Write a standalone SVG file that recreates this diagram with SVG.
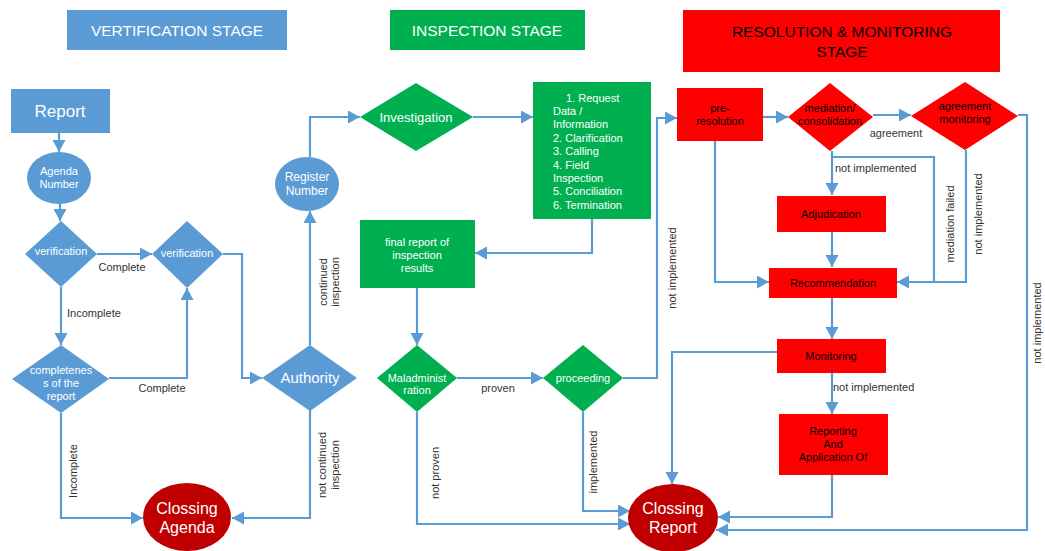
<svg xmlns="http://www.w3.org/2000/svg" width="1045" height="551" viewBox="0 0 1045 551">
<style>
.blue{fill:#5b9bd5}
.green{fill:#00b050}
.red{fill:#ff0000}
.dred{fill:#c00000}
text{font-family:"Liberation Sans",Arial,sans-serif}
.wt{fill:#ffffff;text-anchor:middle}
.bt{fill:#000000;text-anchor:middle}
.lbl{fill:#333333;font-size:11px}
.ctr{text-anchor:middle}
.hd{font-size:15.5px}
.conn path{fill:none;stroke:#5b9bd5;stroke-width:2.2}
.conn path.a{marker-end:url(#arr)}
</style>
<defs>
<marker id="arr" markerUnits="userSpaceOnUse" markerWidth="14" markerHeight="14" refX="12" refY="6.5" orient="auto">
<path d="M0,0 L12,6.5 L0,13 z" fill="#5b9bd5"/>
</marker>
</defs>
<rect width="1045" height="551" fill="#ffffff"/>

<g id="header-verification"><rect x="67" y="10" width="220" height="40" class="blue"/><text x="177" y="36" class="wt hd">VERTIFICATION STAGE</text></g>
<g id="header-inspection"><rect x="390" y="10" width="195" height="40" class="green"/><text x="487" y="36" class="wt hd">INSPECTION STAGE</text></g>
<g id="header-resolution"><rect x="683" y="10" width="317" height="62" class="red"/><text x="842" y="37" class="bt hd">RESOLUTION &amp; MONITORING</text><text x="842" y="57" class="bt hd">STAGE</text></g>

<g class="conn">
<path class="a" d="M59,133 V152"/>
<path class="a" d="M60,204 V221"/>
<path class="a" d="M97,254 H152"/>
<path class="a" d="M61,287 V345"/>
<path class="a" d="M223,254 H242 V378 H262"/>
<path class="a" d="M109,378 H187 V288"/>
<path class="a" d="M61,413 V518 H143"/>
<path class="a" d="M310,410 V518 H232"/>
<path class="a" d="M310,345 V211"/>
<path class="a" d="M310,157 V117 H360"/>
<path class="a" d="M473,117 H533"/>
<path class="a" d="M592,219 V253 H475"/>
<path class="a" d="M417,288 V345"/>
<path class="a" d="M457,378 H543"/>
<path class="a" d="M623,378 H657 V118 H677"/>
<path class="a" d="M763,117 H788"/>
<path class="a" d="M873,115 H911"/>
<path class="a" d="M832,151 V195"/>
<path d="M832,157 H934 V282"/>
<path class="a" d="M966,150 V282 H897"/>
<path class="a" d="M832,232 V267"/>
<path class="a" d="M715,141 V282 H769"/>
<path class="a" d="M832,298 V339"/>
<path class="a" d="M777,352 H672 V484"/>
<path class="a" d="M832,373 V414"/>
<path class="a" d="M832,475 V517 H718"/>
<path class="a" d="M1018,115 H1027 V530 H716"/>
<path class="a" d="M583,412 V511 H630"/>
<path class="a" d="M417,412 V524 H630"/>
</g>

<g id="report"><rect x="11" y="89" width="99" height="44" class="blue"/><text x="60" y="117" class="wt" font-size="17">Report</text></g>
<g id="agenda-number"><ellipse cx="59" cy="178" rx="32" ry="26" class="blue"/><text x="59" y="175" class="wt" font-size="11">Agenda</text><text x="59" y="188" class="wt" font-size="11">Number</text></g>
<g id="verification1"><polygon points="61,221 97,254 61,287 25,254" class="blue"/><text x="61" y="255" class="wt" font-size="11">verification</text></g>
<g id="verification2"><polygon points="187,221 223,254 187,288 152,254" class="blue"/><text x="187" y="257" class="wt" font-size="11">verification</text></g>
<g id="completeness"><polygon points="61,345 109,379 61,413 12,379" class="blue"/><text x="61" y="374" class="wt" font-size="11">completenes</text><text x="61" y="387" class="wt" font-size="11">s of the</text><text x="61" y="400" class="wt" font-size="11">report</text></g>
<g id="authority"><polygon points="310,345 357,378 310,411 262,378" class="blue"/><text x="310" y="383" class="wt" font-size="15">Authority</text></g>
<g id="closing-agenda"><ellipse cx="187" cy="517" rx="44" ry="34" class="dred"/><text x="187" y="514" class="wt" font-size="16">Clossing</text><text x="187" y="533" class="wt" font-size="16">Agenda</text></g>
<g id="register-number"><ellipse cx="307" cy="184" rx="32" ry="27" class="blue"/><text x="307" y="181" class="wt" font-size="12">Register</text><text x="307" y="195" class="wt" font-size="12">Number</text></g>

<g id="investigation"><polygon points="416,83 473,117 416,151 360,117" class="green"/><text x="416" y="122" class="wt" font-size="13">Investigation</text></g>
<g id="steps"><rect x="533" y="82" width="118" height="137" class="green"/>
<text fill="#ffffff" font-size="11"><tspan x="566" y="102">1. Request</tspan><tspan x="553" y="115">Data /</tspan><tspan x="553" y="128">Information</tspan><tspan x="553" y="142">2. Clarification</tspan><tspan x="553" y="155">3. Calling</tspan><tspan x="553" y="169">4. Field</tspan><tspan x="553" y="182">Inspection</tspan><tspan x="553" y="195">5. Conciliation</tspan><tspan x="553" y="209">6. Termination</tspan></text></g>
<g id="final-report"><rect x="360" y="220" width="115" height="68" class="green"/><text x="417" y="246" class="wt" font-size="11">final report of</text><text x="417" y="259" class="wt" font-size="11">inspection</text><text x="417" y="272" class="wt" font-size="11">results</text></g>
<g id="maladministration"><polygon points="417,345 457,378 417,412 377,378" class="green"/><text x="417" y="382" class="wt" font-size="11">Maladminist</text><text x="417" y="394" class="wt" font-size="11">ration</text></g>
<g id="proceeding"><polygon points="583,345 623,378 583,412 543,378" class="green"/><text x="583" y="382" class="wt" font-size="11">proceeding</text></g>

<g id="pre-resolution"><rect x="677" y="88" width="86" height="53" class="red"/><text x="720" y="112" class="bt" font-size="11">pre-</text><text x="720" y="125" class="bt" font-size="11">resolution</text></g>
<g id="mediation"><polygon points="830,83 873,117 830,151 788,117" class="red"/><text x="830" y="112" class="bt" font-size="11">mediation/</text><text x="830" y="125" class="bt" font-size="11">consolidation</text></g>
<g id="agreement-monitoring"><polygon points="965,82 1018,116 965,150 911,116" class="red"/><text x="965" y="110" class="bt" font-size="11">agreement</text><text x="965" y="123" class="bt" font-size="11">monitoring</text></g>
<g id="adjudication"><rect x="777" y="196" width="109" height="36" class="red"/><text x="831" y="218" class="bt" font-size="11">Adjudication</text></g>
<g id="recommendation"><rect x="769" y="268" width="128" height="30" class="red"/><text x="833" y="287" class="bt" font-size="11">Recommendation</text></g>
<g id="monitoring"><rect x="777" y="339" width="109" height="34" class="red"/><text x="831" y="360" class="bt" font-size="11">Monitoring</text></g>
<g id="reporting"><rect x="779" y="414" width="109" height="61" class="red"/><text x="833" y="435" class="bt" font-size="11">Reporting</text><text x="833" y="448" class="bt" font-size="11">And</text><text x="833" y="461" class="bt" font-size="11">Application Of</text></g>
<g id="closing-report"><ellipse cx="673" cy="518" rx="45" ry="34" class="dred"/><text x="673" y="514" class="wt" font-size="16">Clossing</text><text x="673" y="533" class="wt" font-size="16">Report</text></g>

<g id="labels" class="lbl">
<text x="122" y="271" class="ctr">Complete</text>
<text x="67" y="317">Incomplete</text>
<text x="162" y="392" class="ctr">Complete</text>
<text transform="translate(77,471) rotate(-90)" class="ctr">Incomplete</text>
<text transform="translate(326,465) rotate(-90)" class="ctr">not continued</text>
<text transform="translate(339,465) rotate(-90)" class="ctr">inspection</text>
<text transform="translate(327,282) rotate(-90)" class="ctr">continued</text>
<text transform="translate(339,282) rotate(-90)" class="ctr">inspection</text>
<text x="498" y="392" class="ctr">proven</text>
<text transform="translate(676,268) rotate(-90)" class="ctr">not implemented</text>
<text transform="translate(439,473) rotate(-90)" class="ctr">not proven</text>
<text transform="translate(597,462) rotate(-90)" class="ctr">implemented</text>
<text x="896" y="137" class="ctr">agreement</text>
<text x="835" y="172">not implemented</text>
<text transform="translate(954,224) rotate(-90)" class="ctr">mediation failed</text>
<text transform="translate(982,214) rotate(-90)" class="ctr">not implemented</text>
<text transform="translate(1041,323) rotate(-90)" class="ctr">not implemented</text>
<text x="833" y="391">not implemented</text>
</g>
</svg>
